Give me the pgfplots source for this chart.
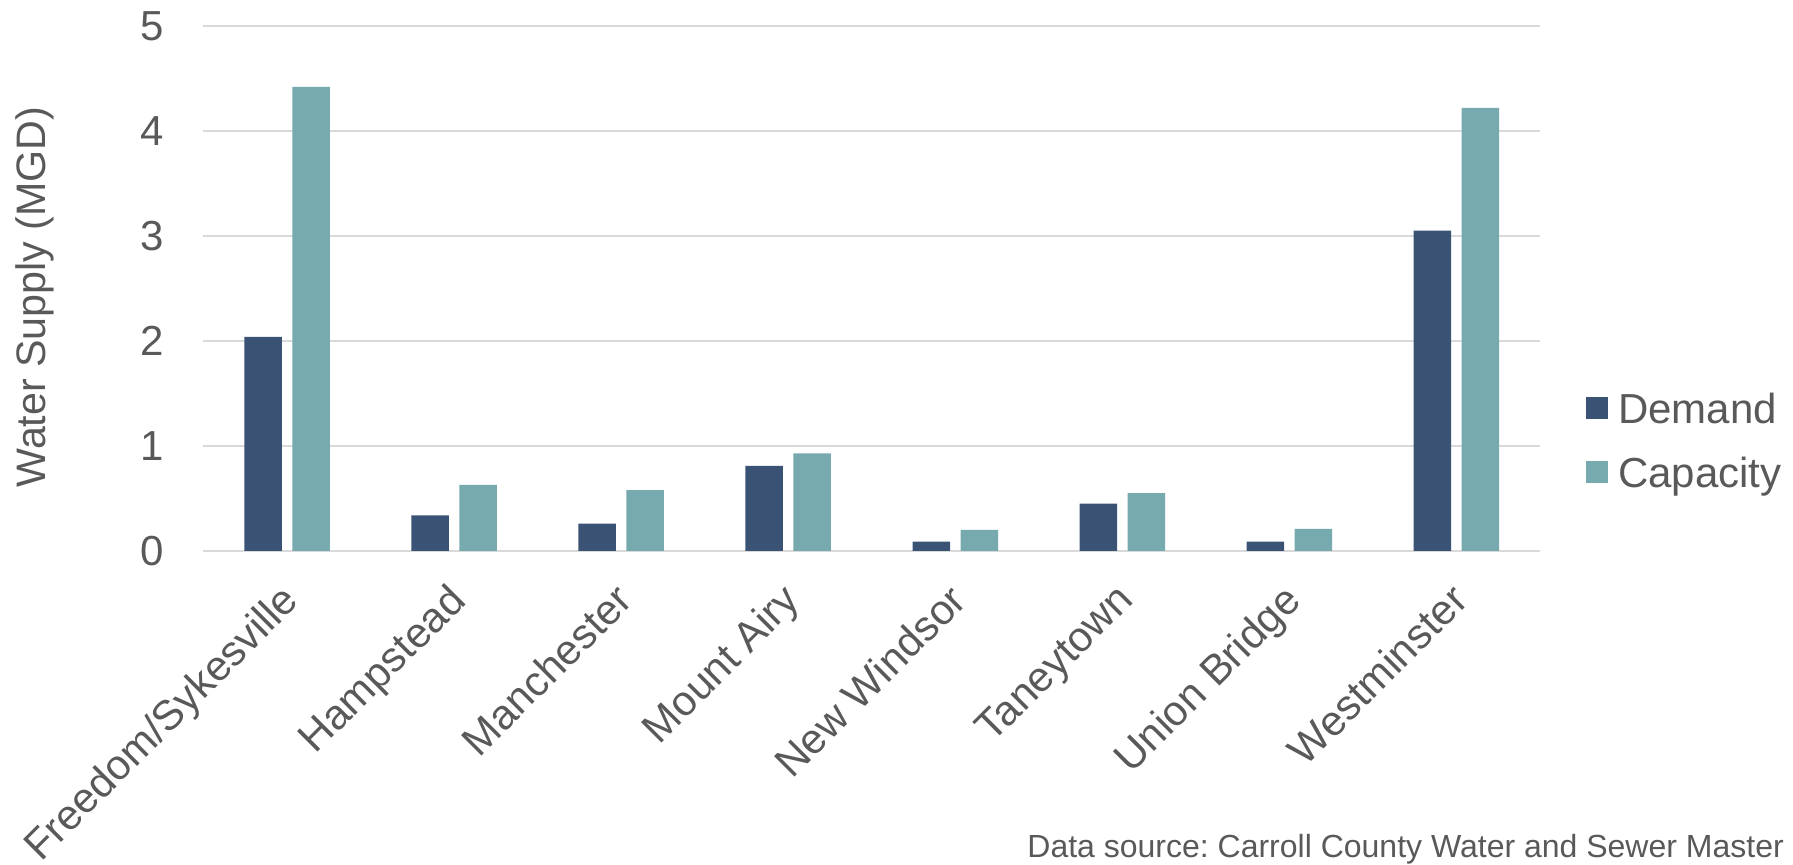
\documentclass[border=0pt]{standalone}
\usepackage{fontspec}
\setmainfont{Liberation Sans}
\usepackage{pgfplots}
\pgfplotsset{compat=1.18}
\definecolor{demand}{HTML}{3A5273}
\definecolor{capacity}{HTML}{76AAAE}
\definecolor{txt}{HTML}{595959}
\definecolor{gridc}{HTML}{D9D9D9}
\frenchspacing
\begin{document}
\begin{tikzpicture}
\begin{axis}[
  at={(0pt,0pt)}, anchor=south west,
  scale only axis, width=668.25pt, height=262.5pt,
  xmin=-0.5, xmax=7.5, ymin=0, ymax=5,
  ytick={0,1,2,3,4,5},
  xtick={0,...,7},
  xticklabels={Freedom/Sykesville, Hampstead, Manchester, Mount Airy, New Windsor, Taneytown, Union Bridge, Westminster},
  ybar=5.25pt, bar width=18.75pt,
  ymajorgrids, grid style={gridc, line width=1pt},
  axis x line*=bottom, axis y line*=left,
  x axis line style={gridc, line width=1pt, -},
  y axis line style={draw=none},
  major tick length=0pt,
  tick style={draw=none},
  ticklabel style={font=\fontsize{21}{25}\selectfont, text=txt},
  /pgf/number format/assume math mode=true,
  yticklabel style={anchor=east, inner sep=0pt, xshift=-19.5pt},
  xticklabel style={xshift=-4pt, yshift=-15pt, rotate=45, anchor=north east, inner sep=0pt},
  ylabel={Water Supply (MGD)},
  ylabel style={font=\fontsize{20.6}{24}\selectfont, text=txt, at={(axis description cs:-0.1265,0.484)}, anchor=center},
  legend style={at={(axis description cs:1,0.2114)}, anchor=west, xshift=23pt, draw=none, fill=none, inner sep=0pt, outer sep=0pt,
    font=\fontsize{21}{25}\selectfont, text=txt, row sep=16.96pt, column sep=5pt,
    nodes={inner sep=0pt, outer sep=0pt, text height=15.04pt, text depth=0pt}},
  legend cell align=left,
  legend image code/.code={\fill[#1] (0pt,-5.5pt) rectangle (11pt,5.5pt);},
]
\addplot[fill=demand, draw=none] coordinates {(0,2.04) (1,0.34) (2,0.26) (3,0.81) (4,0.09) (5,0.45) (6,0.09) (7,3.05)};
\addplot[fill=capacity, draw=none] coordinates {(0,4.42) (1,0.63) (2,0.58) (3,0.93) (4,0.20) (5,0.55) (6,0.21) (7,4.22)};
\legend{Demand, Capacity}
\end{axis}
\node[anchor=base west, font=\fontsize{16}{19}\selectfont, text=txt, inner sep=0pt] at (411.75pt,-153.5pt) {Data source: Carroll County Water and Sewer Master Plan};
\pgfresetboundingbox
\path[use as bounding box] (-101.75pt,-157pt) rectangle (794.75pt,275.5pt);
\end{tikzpicture}
\end{document}
